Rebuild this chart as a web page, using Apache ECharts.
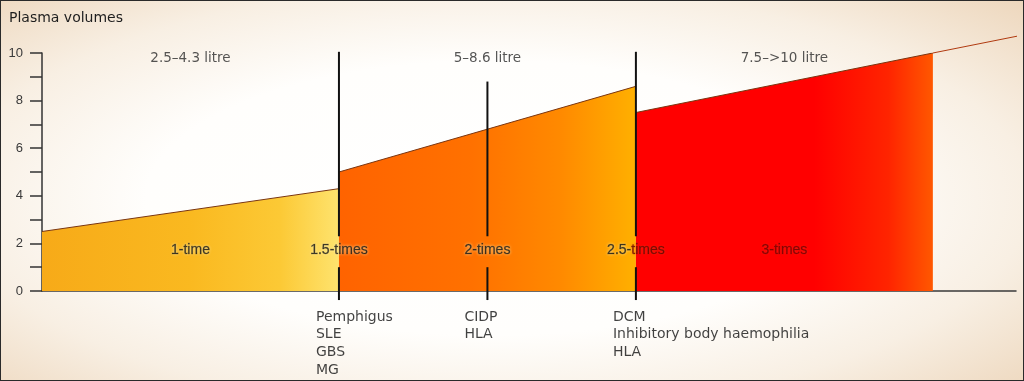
<!DOCTYPE html>
<html>
<head>
<meta charset="utf-8">
<script src="https://cdn.jsdelivr.net/npm/echarts@6/dist/echarts.min.js"></script>
<style>
  html, body { margin: 0; padding: 0; }
  #wrap { position: relative; width: 1024px; height: 381px;
    background: radial-gradient(ellipse 75% 80% at 48% 52%, #ffffff 0%, #fffefc 45%, #f8efe3 70%, #ebd2b5 100%); }
  #chart { width: 1024px; height: 381px; }
  #frame { position: absolute; left: 0; top: 0; width: 1024px; height: 381px; box-sizing: border-box;
    border: 1px solid #2a2a2a; pointer-events: none; }
</style>
</head>
<body>
<div id="wrap"><div id="chart"></div><div id="frame"></div></div>
<script>
// ---- data ----
const titleText = 'Plasma volumes';
const yTicks = [0, 2, 4, 6, 8, 10];
const segStartX = [0.5, 1.5, 2.5];
const segEndX = [1.5, 2.5, 3.5];
const segStartY = [2.5, 5.0, 7.5];
const segEndY = [4.3, 8.6, 10.0];
const extensionX = [3.5, 3.785];
const extensionY = [10.0, 10.71];
const rangeLabels = ['2.5\u20134.3 litre', '5\u20138.6 litre', '7.5\u2013>10 litre'];
const rangeX = [1.0, 2.0, 3.0];
const multipleLabels = ['1-time', '1.5-times', '2-times', '2.5-times', '3-times'];
const multipleX = [1.0, 1.5, 2.0, 2.5, 3.0];
const multipleY = 1.72;
const dividerX = [1.5, 2.0, 2.5];
const dividerTop = [10.05, 8.8, 10.05];
const dividerBottom = -0.38;
const dividerGap = [2.3, 1.0];
const diseaseLists = [
  ['Pemphigus', 'SLE', 'GBS', 'MG'],
  ['CIDP', 'HLA'],
  ['DCM', 'Inhibitory body haemophilia', 'HLA']
];

// ---- styles ----
const segGradients = [
  [[0, '#f7aa18'], [0.5, '#fab920'], [0.8, '#fcc935'], [1, '#fee36e']],
  [[0, '#ff6300'], [0.45, '#ff7100'], [0.75, '#ff8a00'], [1, '#ffb000']],
  [[0, '#ff0000'], [0.6, '#ff0000'], [0.85, '#ff2400'], [1, '#ff5800']]
];
const segEdge = '#7a3510';

function grad(stops) {
  return new echarts.graphic.LinearGradient(0, 0, 1, 0,
    stops.map(s => ({ offset: s[0], color: s[1] })));
}

const series = [];
for (let i = 0; i < segStartX.length; i++) {
  series.push({
    type: 'line', silent: true, symbol: 'none', z: 2,
    data: [[segStartX[i], segStartY[i]], [segEndX[i], segEndY[i]]],
    lineStyle: { color: segEdge, width: 1 },
    areaStyle: { color: grad(segGradients[i]), opacity: 1 }
  });
}
series.push({
  type: 'line', silent: true, symbol: 'none', clip: false, z: 2,
  data: extensionX.map((x, i) => [x, extensionY[i]]),
  lineStyle: { color: '#b03a10', width: 1 }
});
for (let i = 0; i < dividerX.length; i++) {
  const parts = [[dividerTop[i], dividerGap[0]], [dividerGap[1], dividerBottom]];
  parts.forEach(p => {
    series.push({
      type: 'line', silent: true, symbol: 'none', clip: false, z: 4,
      data: [[dividerX[i], p[0]], [dividerX[i], p[1]]],
      lineStyle: { color: '#111', width: 2 }
    });
  });
}

const annot = [];
rangeLabels.forEach((t, i) => {
  annot.push({
    value: [rangeX[i], 10],
    label: { formatter: t, position: [0, 5], align: 'center', verticalAlign: 'middle',
      fontFamily: 'DejaVu Sans', fontSize: 13.5, color: '#2a2a2a' }
  });
});
const halo = { textShadowColor: 'rgba(255,238,170,0.95)', textShadowBlur: 3 };
multipleLabels.forEach((t, i) => {
  const base = Object.assign({ position: [0, 0], align: 'center', verticalAlign: 'middle',
    fontFamily: 'Liberation Sans', fontSize: 14, color: '#141414',
    textBorderColor: 'rgba(20,20,20,0.55)', textBorderWidth: 0.6 }, halo);
  if (i === 3) {
    base.formatter = '{a|2.5-}{b|times}';
    base.rich = {
      a: Object.assign({ fontFamily: 'Liberation Sans', fontSize: 14, color: '#141414',
           textBorderColor: 'rgba(20,20,20,0.55)', textBorderWidth: 0.6 }, halo),
      b: { fontFamily: 'Liberation Sans', fontSize: 14, color: '#5c0800',
           textBorderColor: 'rgba(92,8,0,0.55)', textBorderWidth: 0.6,
           textShadowColor: 'rgba(255,80,40,0.6)', textShadowBlur: 2 }
    };
  } else if (i === 4) {
    base.formatter = t;
    base.color = '#6e0000';
    base.textBorderColor = 'rgba(110,0,0,0.55)';
    base.textShadowColor = 'rgba(255,60,40,0.6)';
    base.textShadowBlur = 2;
  } else {
    base.formatter = t;
  }
  annot.push({ value: [multipleX[i], multipleY], label: base });
});
diseaseLists.forEach((list, i) => {
  annot.push({
    value: [dividerX[i], 0],
    label: { formatter: list.join('\n'), position: [-23, 17], align: 'left', verticalAlign: 'top',
      fontFamily: 'DejaVu Sans', fontSize: 14, lineHeight: 17.8, color: '#111' }
  });
});
series.push({
  type: 'scatter', silent: true, symbolSize: 0, clip: false, z: 6,
  data: annot,
  label: { show: true }
});

const chart = echarts.init(document.getElementById('chart'), null, { renderer: 'canvas' });
chart.setOption({
  animation: false,
  backgroundColor: 'transparent',
  title: {
    text: titleText, left: 9, top: 11, padding: 0,
    textStyle: { fontFamily: 'DejaVu Sans', fontSize: 14, fontWeight: 'normal', color: '#1e1e1e' }
  },
  grid: { left: 42, right: 8, top: 53, bottom: 90, containLabel: false },
  xAxis: {
    type: 'value', min: 0.5, max: 3.78,
    axisLine: { show: true, onZero: false, lineStyle: { color: '#3a3a3a', width: 1.5 } },
    axisTick: { show: false }, axisLabel: { show: false }, splitLine: { show: false }
  },
  yAxis: {
    type: 'value', min: 0, max: 10, interval: 1,
    axisLine: { show: true, lineStyle: { color: '#333', width: 1.5 } },
    axisTick: { show: true, length: 12, lineStyle: { color: '#333', width: 1.5 } },
    axisLabel: {
      margin: 19, fontFamily: 'Liberation Sans', fontSize: 13, color: '#3a3a3a',
      formatter: v => (yTicks.indexOf(v) >= 0 ? String(v) : '')
    },
    splitLine: { show: false }
  },
  series: series
});
</script>
</body>
</html>
